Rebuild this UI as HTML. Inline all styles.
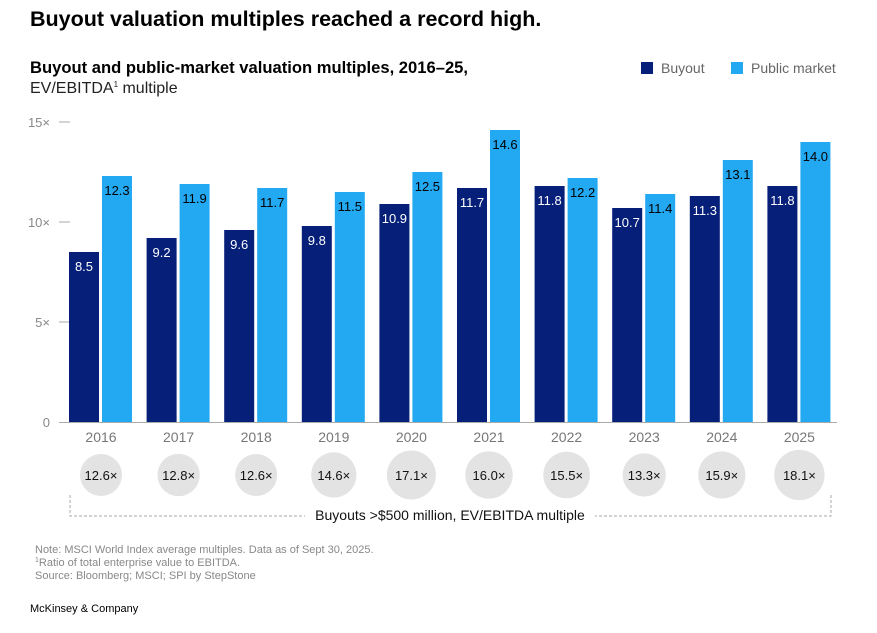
<!DOCTYPE html>
<html><head><meta charset="utf-8"><style>
body{margin:0;background:#fff;width:877px;height:628px;overflow:hidden;font-family:"Liberation Sans",sans-serif}
svg text{font-family:"Liberation Sans",sans-serif}
</style></head><body>
<svg width="877" height="628">
<text x="30" y="26" font-size="21.5" font-weight="bold" fill="#000">Buyout valuation multiples reached a record high.</text>
<text x="30" y="73" font-size="16.6" font-weight="bold" fill="#000">Buyout and public-market valuation multiples, 2016–25,</text>
<text x="30" y="93" font-size="16" fill="#222">EV/EBITDA<tspan font-size="8" dy="-6">1</tspan><tspan dy="6"> multiple</tspan></text>
<g>
<rect x="641" y="62" width="12" height="12" fill="#061f79"/>
<text x="661" y="73" font-size="14" fill="#666">Buyout</text>
<rect x="731" y="62" width="12" height="12" fill="#23a8f2"/>
<text x="751" y="73" font-size="14" fill="#666">Public market</text>
</g>
<g id="axis"></g>
<g id="bars"></g>
<g id="circles"></g>
<path d="M70 495 V516 H831 V495" fill="none" stroke="#aaa" stroke-dasharray="3,2"/>
<rect x="305" y="506" width="290" height="20" fill="#fff"/>
<text x="450" y="520" font-size="14" text-anchor="middle" fill="#111">Buyouts &gt;$500 million, EV/EBITDA multiple</text>
<text x="35" y="553" font-size="11" fill="#888">Note: MSCI World Index average multiples. Data as of Sept 30, 2025.</text>
<text x="35" y="566" font-size="11" fill="#888"><tspan font-size="7" dy="-4">1</tspan><tspan dy="4">Ratio of total enterprise value to EBITDA.</tspan></text>
<text x="35" y="579" font-size="11" fill="#888">Source: Bloomberg; MSCI; SPI by StepStone</text>
<text x="30" y="612" font-size="11" fill="#000">McKinsey &amp; Company</text>
</svg>
<script>
const years=["2016","2017","2018","2019","2020","2021","2022","2023","2024","2025"];
const buyout=[8.5,9.2,9.6,9.8,10.9,11.7,11.8,10.7,11.3,11.8];
const publicMkt=[12.3,11.9,11.7,11.5,12.5,14.6,12.2,11.4,13.1,14.0];
const largeBuyouts=[12.6,12.8,12.6,14.6,17.1,16.0,15.5,13.3,15.9,18.1];
const ticks=[0,5,10,15];
const NS="http://www.w3.org/2000/svg";
function y(v){return 422-v*20;}
function gx(i){return 69+i*77.6;}
function mk(p,t,a){const e=document.createElementNS(NS,t);for(const k in a)e.setAttribute(k,a[k]);p.appendChild(e);return e;}
const ax=document.getElementById('axis'),bg=document.getElementById('bars'),cg=document.getElementById('circles');
ticks.forEach(t=>{
 const l=mk(ax,'text',{x:50,y:y(t)+5,'font-size':13,'text-anchor':'end',fill:'#888'});l.textContent=t===0?'0':t+'×';
 
 
 if(t>0){const ln=mk(ax,'line',{x1:59,x2:70,y1:y(t),y2:y(t),stroke:'#aaa'});
 
 }
});
const base=mk(ax,'line',{x1:59,x2:837,y1:422.5,y2:422.5,stroke:'#aaa'});


years.forEach((yr,i)=>{
 const x=gx(i);
 const b=mk(bg,'rect',{x:x,y:y(buyout[i]),width:30,height:422-y(buyout[i]),fill:'#061f79'});
 
 
 const p=mk(bg,'rect',{x:x+33,y:y(publicMkt[i]),width:30,height:422-y(publicMkt[i]),fill:'#23a8f2'});
 
 
 const bl=mk(bg,'text',{x:x+15,y:y(buyout[i])+19,'font-size':13,'text-anchor':'middle',fill:'#fff'});bl.textContent=buyout[i].toFixed(1);
 
 
 const pl=mk(bg,'text',{x:x+48,y:y(publicMkt[i])+19,'font-size':13,'text-anchor':'middle',fill:'#000'});pl.textContent=publicMkt[i].toFixed(1);
 
 
 const yl=mk(bg,'text',{x:x+32,y:442,'font-size':14,'text-anchor':'middle',fill:'#777'});yl.textContent=yr;
 
 
 const r=5.92*Math.sqrt(largeBuyouts[i]);
 const c=mk(cg,'circle',{cx:x+32,cy:475,r:r,fill:'#e3e3e3'});
 
 
 const ct=mk(cg,'text',{x:x+32,y:480,'font-size':13,'text-anchor':'middle',fill:'#111'});ct.textContent=largeBuyouts[i].toFixed(1)+'×';
 
 
});
</script>
</body></html>
